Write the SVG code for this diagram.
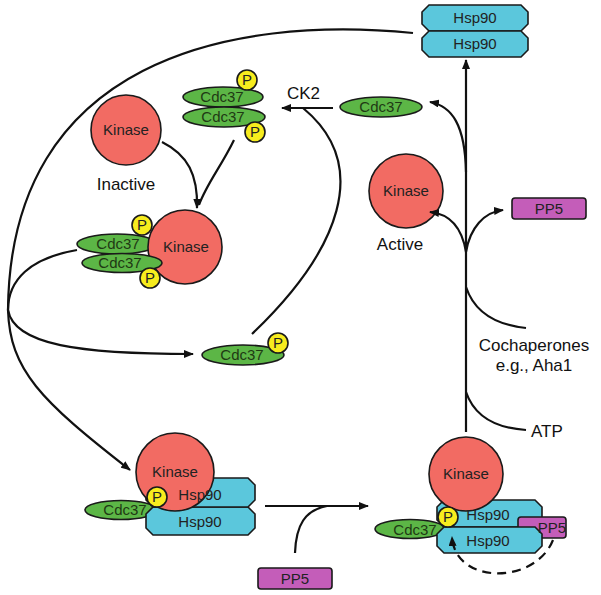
<svg xmlns="http://www.w3.org/2000/svg" width="601" height="595" viewBox="0 0 601 595">
<defs>
<marker id="ah" markerWidth="10" markerHeight="8" refX="9" refY="4" orient="auto" markerUnits="userSpaceOnUse">
<path d="M0,0 L10,4 L0,8 z" fill="#111"/>
</marker>
</defs>
<style>
.kin{fill:#f26b63;stroke:#1a1a1a;stroke-width:1.6}
.cdc{fill:#5cb646;stroke:#1a1a1a;stroke-width:1.6}
.hsp{fill:#5bc7dc;stroke:#1a1a1a;stroke-width:1.6}
.pp5{fill:#c45db9;stroke:#1a1a1a;stroke-width:1.6}
.p{fill:#f7ec1e;stroke:#1a1a1a;stroke-width:1.6}
.t{font-family:"Liberation Sans",Arial,sans-serif;font-size:15px;fill:#222;text-anchor:middle}
.tc{font-family:"Liberation Sans",Arial,sans-serif;font-size:15px;fill:#1f3a14;text-anchor:middle}
.lab{font-family:"Liberation Sans",Arial,sans-serif;font-size:17px;fill:#111}
.c{fill:none;stroke:#111;stroke-width:2.2}
</style>

<g id="hsp90-top">
<polygon class="hsp" points="429,5 521,5 528,12 528,24 521,31 429,31 422,24 422,12"/>
<polygon class="hsp" points="429,31 521,31 528,38 528,50 521,57 429,57 422,50 422,38"/>
<text class="t" x="475" y="23">Hsp90</text>
<text class="t" x="475" y="49">Hsp90</text>
</g>

<g id="cdc37-p-pair">
<ellipse class="cdc" cx="223" cy="97" rx="40" ry="10"/>
<text class="tc" x="222" y="102">Cdc37</text>
<ellipse class="cdc" cx="224" cy="117" rx="41" ry="10"/>
<text class="tc" x="223" y="122">Cdc37</text>
<circle class="p" cx="247" cy="80" r="10"/>
<text class="t" x="247" y="85">P</text>
<circle class="p" cx="255" cy="132" r="10"/>
<text class="t" x="255" y="137">P</text>
</g>

<g id="kinase-inactive">
<circle class="kin" cx="126" cy="130" r="35"/>
<text class="t" x="126" y="135">Kinase</text>
<text class="lab" x="126" y="190" text-anchor="middle">Inactive</text>
</g>

<g id="kinase-cdc37-complex">
<ellipse class="cdc" cx="117" cy="244" rx="40" ry="10"/>
<circle class="kin" cx="185" cy="247" r="37"/>
<text class="tc" x="118" y="249">Cdc37</text>
<ellipse class="cdc" cx="122" cy="263" rx="40" ry="9.5"/>
<text class="tc" x="120" y="268">Cdc37</text>
<text class="t" x="186" y="252">Kinase</text>
<circle class="p" cx="142" cy="225" r="10"/>
<text class="t" x="142" y="230">P</text>
<circle class="p" cx="150" cy="278" r="10"/>
<text class="t" x="150" y="283">P</text>
</g>

<g id="cdc37-ck2">
<text class="lab" x="287" y="99">CK2</text>
</g>

<g id="cdc37-free">
<ellipse class="cdc" cx="381" cy="107" rx="41" ry="10"/>
<text class="tc" x="381" y="112">Cdc37</text>
</g>

<g id="cdc37-p-mid">
<ellipse class="cdc" cx="243" cy="355" rx="41" ry="10"/>
<text class="tc" x="242" y="360">Cdc37</text>
<circle class="p" cx="278" cy="343" r="10"/>
<text class="t" x="278" y="348">P</text>
</g>

<g id="kinase-active">
<circle class="kin" cx="406" cy="191" r="37"/>
<text class="t" x="406" y="196">Kinase</text>
<text class="lab" x="400" y="250" text-anchor="middle">Active</text>
</g>

<g id="pp5-top">
<rect class="pp5" x="512" y="198" width="74" height="21" rx="3"/>
<text class="t" x="549" y="214">PP5</text>
</g>

<g id="cochaperones">
<text class="lab" x="534" y="351" text-anchor="middle">Cochaperones</text>
<text class="lab" x="534" y="371" text-anchor="middle">e.g., Aha1</text>
</g>

<g id="atp">
<text class="lab" x="531" y="437">ATP</text>
</g>

<g id="complex-left">
<ellipse class="cdc" cx="121" cy="510" rx="36" ry="9.5"/>
<polygon class="hsp" points="153,507 248,507 255,514 255,528 248,535 153,535 146,528 146,514"/>
<polygon class="hsp" points="153,478 248,478 255,485 255,500 248,507 153,507 146,500 146,485"/>
<circle class="kin" cx="175" cy="472" r="39"/>
<text class="t" x="175" y="477">Kinase</text>
<text class="t" x="200" y="500">Hsp90</text>
<text class="t" x="200" y="527">Hsp90</text>
<circle class="p" cx="157" cy="497" r="10"/>
<text class="t" x="157" y="502">P</text>
<text class="tc" x="125" y="515">Cdc37</text>
</g>

<g id="pp5-bottom">
<rect class="pp5" x="258" y="568" width="74" height="21" rx="3"/>
<text class="t" x="295" y="584">PP5</text>
</g>

<g id="complex-right">
<ellipse class="cdc" cx="410" cy="529" rx="35" ry="9.5"/>
<polygon class="hsp" points="444,500 535,500 542,507 542,520 535,527 444,527 437,520 437,507"/>
<rect class="pp5" x="518" y="517" width="48" height="21" rx="3"/>
<polygon class="hsp" points="444,527 535,527 542,534 542,546 535,553 444,553 437,546 437,534"/>
<circle class="kin" cx="466" cy="474" r="37"/>
<text class="t" x="466" y="479">Kinase</text>
<text class="t" x="488" y="520">Hsp90</text>
<text class="t" x="488" y="546">Hsp90</text>
<text class="t" x="552" y="533">PP5</text>
<circle class="p" cx="448" cy="517" r="10"/>
<text class="t" x="448" y="522">P</text>
<text class="tc" x="415" y="535">Cdc37</text>
</g>

<g id="connectors">
<path class="c" d="M413,33 C230,15 10,60 8,310 C10,370 40,400 130,470" marker-end="url(#ah)"/>
<path class="c" d="M77,250 C30,258 8,280 8,310 C14,345 80,354 193,354" marker-end="url(#ah)"/>
<path class="c" d="M252,334 C340,250 372,165 303,108"/>
<path class="c" d="M333,108 L282,108" marker-end="url(#ah)"/>
<path class="c" d="M162,142 C188,155 198,175 197,208" marker-end="url(#ah)"/>
<path class="c" d="M234,140 C222,165 206,185 199,205"/>
<path class="c" d="M466,432 L466,60" marker-end="url(#ah)"/>
<path class="c" d="M466,172 C465,125 452,106 430,102" marker-end="url(#ah)"/>
<path class="c" d="M466,252 C462,228 450,214 430,212" marker-end="url(#ah)"/>
<path class="c" d="M466,252 C470,228 484,212 503,210" marker-end="url(#ah)"/>
<path class="c" d="M466,287 Q478,323 526,328"/>
<path class="c" d="M466,392 Q478,427 526,430"/>
<path class="c" d="M265,506 L368,506" marker-end="url(#ah)"/>
<path class="c" d="M295,553 C296,525 305,510 327,506"/>
<path class="c" d="M553,540 C535,585 455,585 452,537" stroke-dasharray="9,6" marker-end="url(#ah)"/>
</g>
</svg>
